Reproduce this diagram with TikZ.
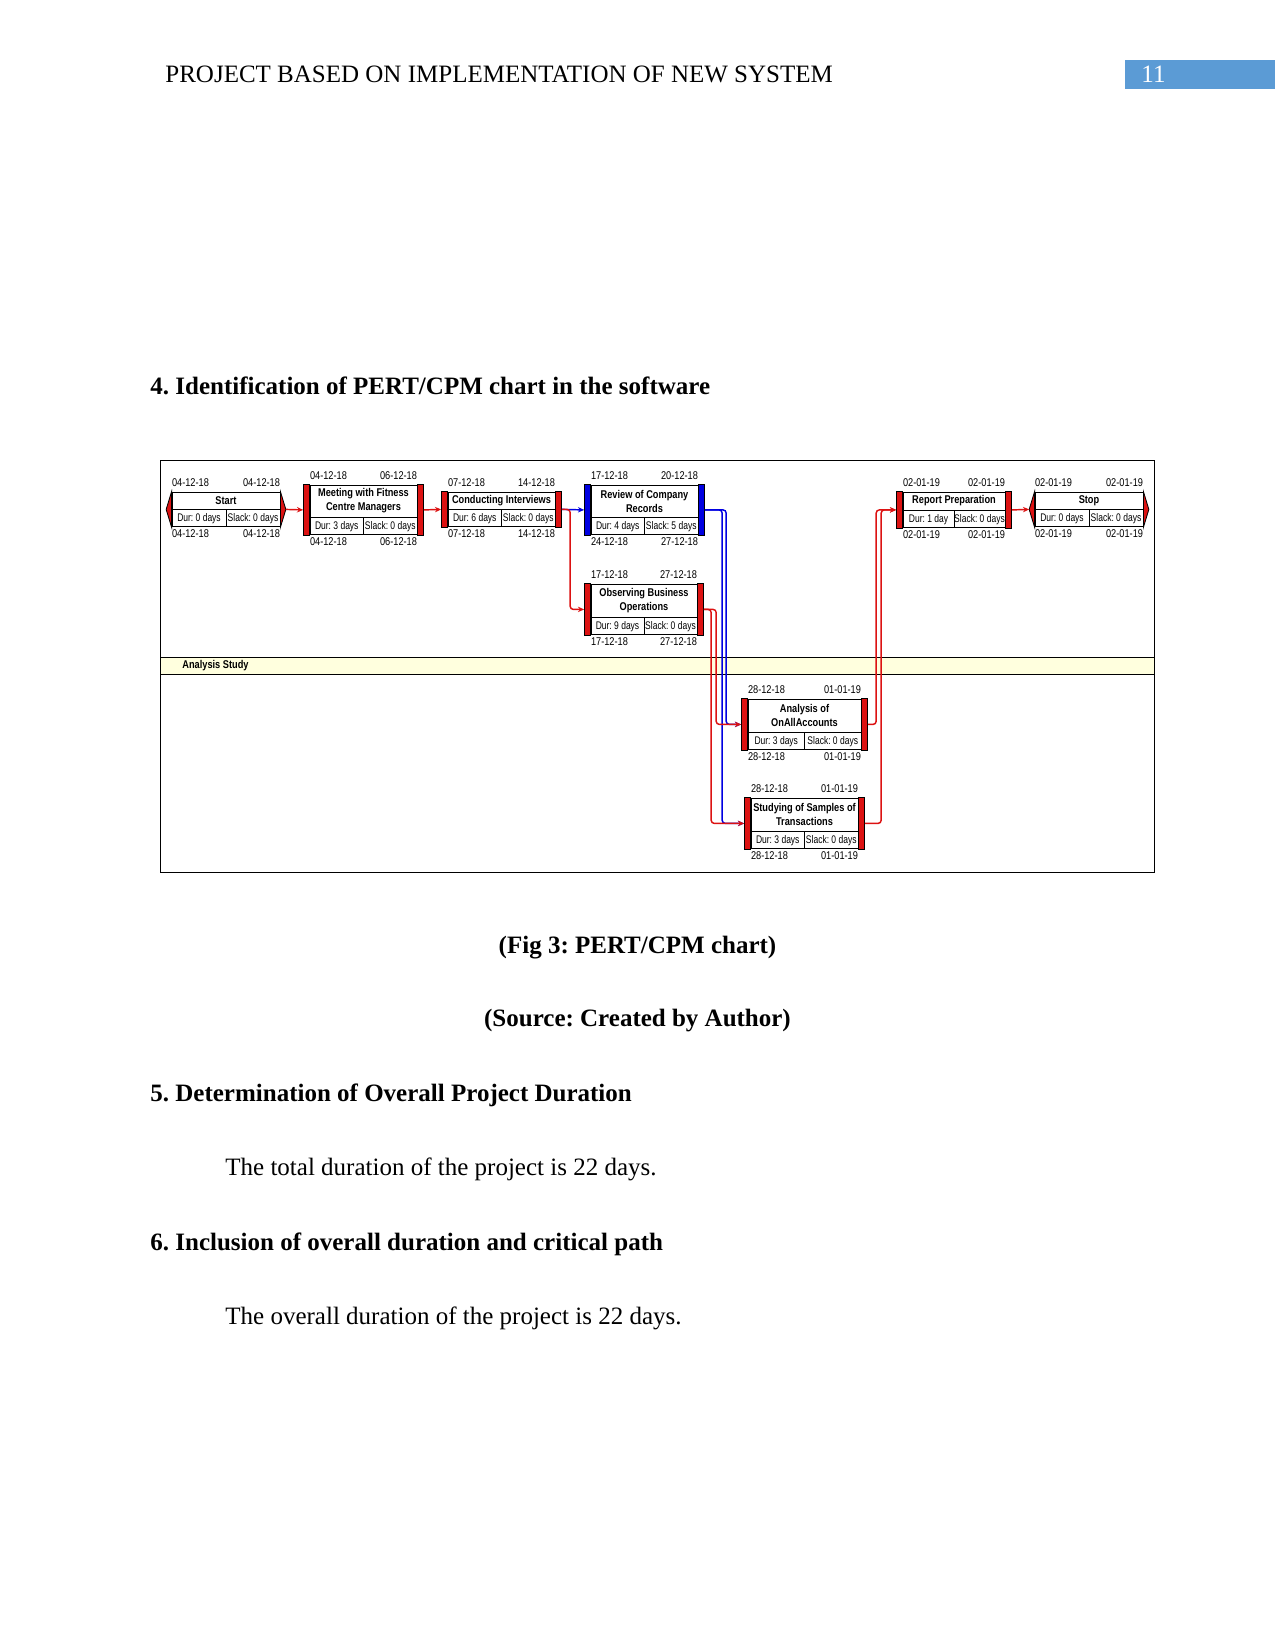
\documentclass[tikz,border=0pt]{standalone}
\usepackage{fontspec}
\setmainfont{Liberation Serif}
\newfontfamily\chartfont[FakeStretch=0.82]{Liberation Sans}
\newfontfamily\cellfont[FakeStretch=0.77]{Liberation Sans}
\usepackage{tikz}
\usetikzlibrary{arrows.meta, positioning, calc, fit}
\frenchspacing

\definecolor{critred}{RGB}{220,18,18}
\definecolor{noncritblue}{RGB}{0,0,225}
\definecolor{bandyellow}{RGB}{255,255,222}
\definecolor{hdrblue}{RGB}{91,155,213}

\newlength\px
\setlength\px{0.48pt}

% task box: name, centre, width, title height, title, dur, slack
\newcommand{\pertbox}[7]{%
  \node[ttl, minimum width=#3*\px, minimum height=#4*\px] (#1) at #2 {#5};
  \node[cell, minimum width=#3*\px/2, anchor=north west] (#1d) at (#1.south west) {Dur: #6};
  \node[cell, minimum width=#3*\px/2, anchor=north east] (#1s) at (#1.south east) {Slack: #7};
}
% side bars of a task
\newcommand{\pertbars}[2]{%
  \node[fit=(#2)(#2d)(#2s), inner xsep=6*\px, inner ysep=0] (#2-b) {};
  \filldraw[fill=#1] (#2-b.north west) rectangle (#2d.south west);
  \filldraw[fill=#1] (#2s.south east) rectangle (#2-b.north east);
}
% wedge ends of a milestone
\newcommand{\pertends}[1]{%
  \node[fit=(#1)(#1d)(#1s), inner xsep=5*\px, inner ysep=0] (#1-b) {};
  \filldraw[fill=critred] (#1.north west) -- (#1-b.west) -- (#1d.south west) -- cycle;
  \filldraw[fill=critred] (#1.north east) -- (#1-b.east) -- (#1s.south east) -- cycle;
}
% early dates above, late dates below
\newcommand{\pertdates}[5]{%
  \node[date, anchor=base west, yshift=5*\px] (#1es) at (#1.north west) {#2};
  \node[date, anchor=base east, yshift=5*\px] (#1ef) at (#1.north east) {#3};
  \node[date, anchor=base west, yshift=-10*\px] (#1ls) at (#1d.south west) {#4};
  \node[date, anchor=base east, yshift=-10*\px] (#1lf) at (#1s.south east) {#5};
}

\begin{document}
\begin{tikzpicture}[x=0.48pt, y=-0.48pt, >=Stealth,
  body/.style={inner sep=0, font=\fontsize{12}{14}\selectfont},
  head/.style={inner sep=0, font=\fontsize{12}{14}\selectfont\bfseries},
  ttl/.style={draw, fill=white, inner sep=0, align=center, font=\chartfont\bfseries\fontsize{5.4}{6.7}\selectfont},
  cell/.style={draw, fill=white, inner sep=0, minimum height=17*\px, font=\cellfont\fontsize{5.3}{6.5}\selectfont},
  date/.style={inner sep=0, font=\chartfont\fontsize{5.4}{6.5}\selectfont},
  crit/.style={draw=critred, line width=0.7pt, rounded corners=1.5pt, -{Stealth[length=3pt, width=2.6pt]}},
  noncrit/.style={draw=noncritblue, line width=0.7pt, rounded corners=1.5pt, -{Stealth[length=3pt, width=2.6pt]}}]
  \useasboundingbox (0,0) rectangle (1275,1650);

  % page header
  \node[body, anchor=base west] (hdr) at (165,83) {PROJECT BASED ON IMPLEMENTATION OF NEW SYSTEM};
  \fill[hdrblue] (1125,60) rectangle (1275,89);
  \node[body, anchor=base west, text=white] (pgno) at (1141,83) {11};

  \node[head, anchor=base west] (sec4) at (150,395) {4. Identification of PERT/CPM chart in the software};

  % chart frame and swimlane
  \draw[line width=0.4pt] (160,460) rectangle (1154,872);
  \draw[fill=bandyellow, line width=0.4pt] (160,657) rectangle (1154,674);
  \node[inner sep=0, anchor=west, font=\chartfont\bfseries\fontsize{5.4}{6.5}\selectfont] (lane) at (182,665.5) {Analysis Study};

  % tasks
  \pertbox{start}{(226,500.5)}{108}{17}{Start}{0 days}{0 days}
  \pertends{start}
  \pertdates{start}{04-12-18}{04-12-18}{04-12-18}{04-12-18}

  \pertbox{meet}{(363.5,501)}{107}{32}{Meeting with Fitness\\Centre Managers}{3 days}{0 days}
  \pertbars{critred}{meet}
  \pertdates{meet}{04-12-18}{06-12-18}{04-12-18}{06-12-18}

  \pertbox{cond}{(501.5,500.5)}{107}{17}{Conducting Interviews}{6 days}{0 days}
  \pertbars{critred}{cond}
  \pertdates{cond}{07-12-18}{14-12-18}{07-12-18}{14-12-18}

  \pertbox{rev}{(644.5,501)}{107}{32}{Review of Company\\Records}{4 days}{5 days}
  \pertbars{noncritblue}{rev}
  \pertdates{rev}{17-12-18}{20-12-18}{24-12-18}{27-12-18}

  \pertbox{obs}{(644,600.5)}{106}{33}{Observing Business\\Operations}{9 days}{0 days}
  \pertbars{critred}{obs}
  \pertdates{obs}{17-12-18}{27-12-18}{17-12-18}{27-12-18}

  \pertbox{ana}{(804.5,715.5)}{113}{33}{Analysis of\\OnAllAccounts}{3 days}{0 days}
  \pertbars{critred}{ana}
  \pertdates{ana}{28-12-18}{01-01-19}{28-12-18}{01-01-19}

  \pertbox{stu}{(804.5,814.5)}{107}{33}{Studying of Samples of\\Transactions}{3 days}{0 days}
  \pertbars{critred}{stu}
  \pertdates{stu}{28-12-18}{01-01-19}{28-12-18}{01-01-19}

  \pertbox{rep}{(954,501)}{102}{18}{Report Preparation}{1 day}{0 days}
  \pertbars{critred}{rep}
  \pertdates{rep}{02-01-19}{02-01-19}{02-01-19}{02-01-19}

  \pertbox{stop}{(1089,500.5)}{108}{17}{Stop}{0 days}{0 days}
  \pertends{stop}
  \pertdates{stop}{02-01-19}{02-01-19}{02-01-19}{02-01-19}

  % links
  \draw[crit] (start-b.east) -- (meet-b.west);
  \draw[crit] (meet-b.east) -- (cond-b.west);
  \draw[noncrit] (cond-b.east) -- (rev-b.west);
  \draw[crit] (cond-b.east) -| ([xshift=-14*\px]obs-b.west) -- (obs-b.west);
  \draw[noncrit] (rev-b.east) -| ([xshift=-15*\px]ana-b.west) -- (ana-b.west);
  \draw[noncrit] (rev-b.east) -| ([xshift=-22*\px]stu-b.west) -- (stu-b.west);
  \draw[crit] (obs-b.east) -| ([xshift=-25*\px]ana-b.west) -- (ana-b.west);
  \draw[crit] (obs-b.east) -| ([xshift=-33*\px]stu-b.west) -- (stu-b.west);
  \draw[crit] (ana-b.east) -| ([xshift=-20*\px]rep-b.west) -- (rep-b.west);
  \draw[crit] (stu-b.east) -| ([xshift=-15*\px]rep-b.west) -- (rep-b.west);
  \draw[crit] (rep-b.east) -- (stop-b.west);

  % text below the chart
  \node[head, anchor=base] (cap) at (637.5,953) {(Fig 3: PERT/CPM chart)};
  \node[head, anchor=base] (src) at (637.5,1026) {(Source: Created by Author)};
  \node[head, anchor=base west] (sec5) at (150,1101) {5. Determination of Overall Project Duration};
  \node[body, anchor=base west] (txt5) at (225,1175) {The total duration of the project is 22 days.};
  \node[head, anchor=base west] (sec6) at (150,1250) {6. Inclusion of overall duration and critical path};
  \node[body, anchor=base west] (txt6) at (225,1324) {The overall duration of the project is 22 days.};
\end{tikzpicture}
\end{document}
